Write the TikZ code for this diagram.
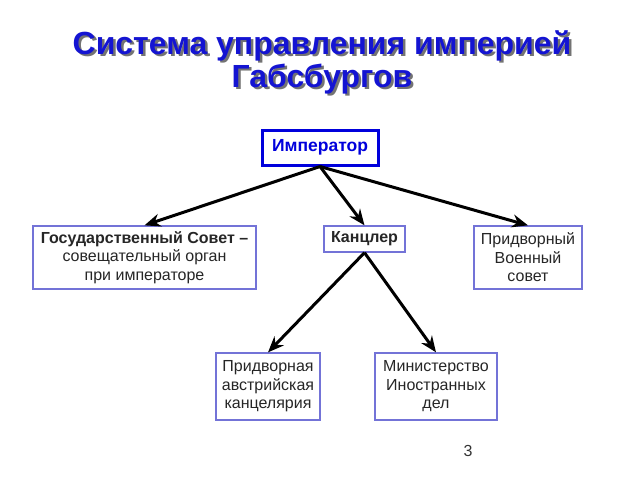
\documentclass[tikz,border=0pt]{standalone}
\usepackage{fontspec}
\setmainfont{Liberation Sans}
\usetikzlibrary{arrows.meta}
\definecolor{titleblue}{RGB}{20,20,210}
\definecolor{boxline}{RGB}{115,115,215}
\definecolor{impblue}{RGB}{0,0,220}
\begin{document}
\begin{tikzpicture}[x=1pt,y=-1pt,
  box/.style={draw=boxline,line width=1.3pt,fill=white,align=center,inner sep=0pt,
    font=\fontsize{16}{18.5}\selectfont,text=black!85},
  link/.style={line width=3pt,-{Stealth[length=16pt,width=13pt]}}]
\useasboundingbox (0,0) rectangle (640,480);
% title
\foreach \dx/\col in {2.5/black!55, 0/titleblue}{
  \node[font=\fontsize{32}{33}\selectfont\bfseries,text=\col,align=center]
    at (322+\dx,62+\dx) {Система управления империей\\Габсбургов};
}
\node[draw=impblue,line width=3pt,minimum width=116pt,minimum height=35pt,inner sep=0pt,
  font=\fontsize{17.5}{18}\selectfont\bfseries,text=impblue] (imp) at (320,147.5) {Император};
\node[box,minimum width=223pt,minimum height=63pt] (gov) at (144.5,257.5)
  {\textbf{Государственный Совет –}\\совещательный орган\\при императоре};
\node[box,minimum width=81pt,minimum height=26pt] (kan) at (364.5,239) {\textbf{Канцлер}};
\node[box,minimum width=108pt,minimum height=63pt] (mil) at (528,257.5)
  {Придворный\\Военный\\совет};
\node[box,minimum width=104pt,minimum height=67pt] (court) at (268,386.5)
  {Придворная\\австрийская\\канцелярия};
\node[box,minimum width=122pt,minimum height=67pt] (min) at (436,386.5)
  {Министерство\\Иностранных\\дел};
\node[font=\fontsize{16}{18}\selectfont,text=black!80] (num) at (468,451) {3};
\draw[link] (imp.south) -- (gov.north);
\draw[link] (imp.south) -- (kan.north);
\draw[link] (imp.south) -- (mil.north);
\draw[link] (kan.south) -- (court.north);
\draw[link] (kan.south) -- (min.north);
\end{tikzpicture}
\end{document}
